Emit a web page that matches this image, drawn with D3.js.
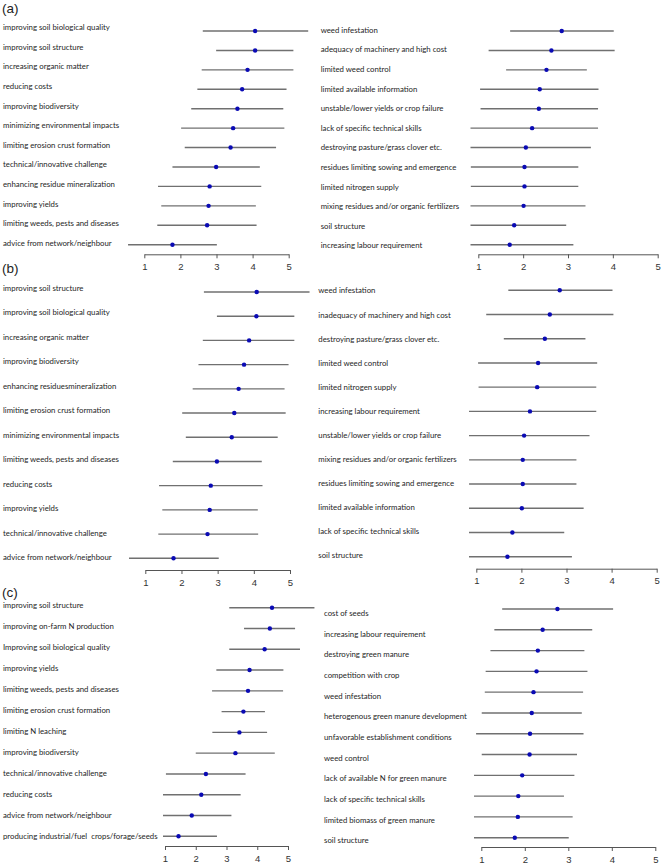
<!DOCTYPE html>
<html>
<head>
<meta charset="utf-8">
<script src="https://cdn.jsdelivr.net/npm/d3@7"></script>
<style>
  html, body { margin: 0; padding: 0; background: #fff; }
  svg { display: block; }
  .lab { font-family: Lato, "Open Sans", sans-serif; fill: #1e1e1e; white-space: pre; }
  .tick text { font-family: "Liberation Sans", Arial, sans-serif; fill: #333; }
  .ttl { font-family: "Liberation Sans", Arial, sans-serif; fill: #222; }
</style>
</head>
<body>
<svg id="chart" width="661" height="867"></svg>
<script>
// ---------------- DATA ----------------
const tickValues = [1, 2, 3, 4, 5];

// (a) benefits
const aLeftLabels = [
  "improving soil biological quality", "improving soil structure", "increasing organic matter",
  "reducing costs", "improving biodiversity", "minimizing environmental impacts",
  "limiting erosion crust formation", "technical/innovative challenge", "enhancing residue mineralization",
  "improving yields", "limiting weeds, pests and diseases", "advice from network/neighbour"];
const aLeftMean = [4.07, 4.07, 3.86, 3.71, 3.58, 3.46, 3.39, 2.99, 2.81, 2.78, 2.74, 1.78];
const aLeftLow  = [2.62, 2.99, 2.59, 2.47, 2.30, 2.02, 2.12, 1.78, 1.38, 1.47, 1.36, 0.55];
const aLeftHigh = [5.54, 5.13, 5.13, 4.94, 4.85, 4.88, 4.65, 4.20, 4.24, 4.09, 4.11, 3.01];

// (a) constraints
const aRightLabels = [
  "weed infestation", "adequacy of machinery and high cost", "limited weed control",
  "limited available information", "unstable/lower yields or crop failure", "lack of specific technical skills",
  "destroying pasture/grass clover etc.", "residues limiting sowing and emergence", "limited nitrogen supply",
  "mixing residues and/or organic fertilizers", "soil structure", "increasing labour requirement"];
const aRightMean = [2.86, 2.63, 2.52, 2.37, 2.35, 2.20, 2.06, 2.03, 2.03, 2.01, 1.80, 1.70];
const aRightLow  = [1.71, 1.23, 1.62, 1.04, 1.05, 0.73, 0.61, 0.83, 0.83, 0.63, 0.64, 0.28];
const aRightHigh = [4.02, 4.04, 3.42, 3.68, 3.67, 3.67, 3.51, 3.23, 3.23, 3.39, 2.96, 3.12];

// (b) benefits
const bLeftLabels = [
  "improving soil structure", "improving soil biological quality", "increasing organic matter",
  "improving biodiversity", "enhancing residuesmineralization", "limiting erosion crust formation",
  "minimizing environmental impacts", "limiting weeds, pests and diseases", "reducing costs",
  "improving yields", "technical/innovative challenge", "advice from network/neighbour"];
const bLeftMean = [4.08, 4.07, 3.87, 3.73, 3.58, 3.46, 3.39, 2.98, 2.81, 2.78, 2.72, 1.78];
const bLeftLow  = [2.62, 2.98, 2.59, 2.47, 2.31, 2.02, 2.12, 1.76, 1.38, 1.47, 1.36, 0.55];
const bLeftHigh = [5.54, 5.12, 5.12, 4.96, 4.85, 4.88, 4.66, 4.22, 4.24, 4.11, 4.12, 3.03];

// (b) constraints
const bRightLabels = [
  "weed infestation", "inadequacy of machinery and high cost", "destroying pasture/grass clover etc.",
  "limited weed control", "limited nitrogen supply", "increasing labour requirement",
  "unstable/lower yields or crop failure", "mixing residues and/or organic fertilizers",
  "residues limiting sowing and emergence", "limited available information",
  "lack of specific technical skills", "soil structure"];
const bRightMean = [2.85, 2.63, 2.52, 2.37, 2.35, 2.19, 2.06, 2.03, 2.03, 2.01, 1.80, 1.69];
const bRightLow  = [1.71, 1.22, 1.61, 1.04, 1.05, 0.72, 0.61, 0.84, 0.84, 0.64, 0.65, 0.26];
const bRightHigh = [4.02, 4.04, 3.42, 3.68, 3.66, 3.66, 3.51, 3.22, 3.22, 3.38, 2.95, 3.12];

// (c) benefits
const cLeftLabels = [
  "improving soil structure", "improving on-farm N production", "Improving soil biological quality",
  "improving yields", "limiting weeds, pests and diseases", "limiting erosion crust formation",
  "limiting N leaching", "improving biodiversity", "technical/innovative challenge",
  "reducing costs", "advice from network/neighbour", "producing industrial/fuel  crops/forage/seeds"];
const cLeftMean = [4.48, 4.41, 4.24, 3.75, 3.70, 3.55, 3.42, 3.29, 2.33, 2.18, 1.87, 1.44];
const cLeftLow  = [3.09, 3.57, 3.09, 2.67, 2.53, 2.84, 2.54, 2.00, 1.03, 0.90, 0.58, 0.19];
const cLeftHigh = [5.86, 5.23, 5.39, 4.85, 4.84, 4.25, 4.32, 4.57, 3.62, 3.46, 3.16, 2.69];

// (c) constraints
const cRightLabels = [
  "cost of seeds", "increasing labour requirement", "destroying green manure",
  "competition with crop", "weed infestation", "heterogenous green manure development",
  "unfavorable establishment conditions", "weed control", "lack of available N for green manure",
  "lack of specific technical skills", "limited biomass of green manure", "soil structure"];
const cRightMean = [2.75, 2.41, 2.30, 2.27, 2.20, 2.16, 2.12, 2.11, 1.94, 1.85, 1.84, 1.77];
const cRightLow  = [1.48, 1.30, 1.21, 1.10, 1.08, 1.01, 0.88, 1.01, 0.74, 0.80, 0.58, 0.53];
const cRightHigh = [4.03, 3.55, 3.37, 3.44, 3.34, 3.31, 3.35, 3.20, 3.14, 2.90, 3.10, 3.01];

const panelTitles = ["(a)", "(b)", "(c)"];

// ---------------- LAYOUT ----------------
const panels = [
  { labels: aLeftLabels, mean: aLeftMean, lo: aLeftLow, hi: aLeftHigh,
    x1: 144.3, x5: 288.7, axisY: 254.3, rowY0: 31, rowY1: 244.7,
    labX: 3, labY0: 27.3, labY1: 243.3, clipL: 0, clipR: 316 },
  { labels: aRightLabels, mean: aRightMean, lo: aRightLow, hi: aRightHigh,
    x1: 478.3, x5: 657.7, axisY: 254.3, rowY0: 31, rowY1: 244.7,
    labX: 320.7, labY0: 30, labY1: 245.7, clipL: 470.5, clipR: 661 },
  { labels: bLeftLabels, mean: bLeftMean, lo: bLeftLow, hi: bLeftHigh,
    x1: 145.3, x5: 290, axisY: 570, rowY0: 292, rowY1: 558.3,
    labX: 3, labY0: 288.3, labY1: 557.3, clipL: 0, clipR: 316 },
  { labels: bRightLabels, mean: bRightMean, lo: bRightLow, hi: bRightHigh,
    x1: 476.3, x5: 656.7, axisY: 568.7, rowY0: 290.3, rowY1: 556.7,
    labX: 318.3, labY0: 290.7, labY1: 555.7, clipL: 469, clipR: 661 },
  { labels: cLeftLabels, mean: cLeftMean, lo: cLeftLow, hi: cLeftHigh,
    x1: 165, x5: 288, axisY: 846, rowY0: 607.7, rowY1: 836.3,
    labX: 3, labY0: 605, labY1: 836.7, clipL: 163, clipR: 316 },
  { labels: cRightLabels, mean: cRightMean, lo: cRightLow, hi: cRightHigh,
    x1: 481.3, x5: 655.3, axisY: 847, rowY0: 609, rowY1: 837.7,
    labX: 324, labY0: 613.3, labY1: 840.7, clipL: 474, clipR: 661 }
];
const titlePos = [{x: 2, y: 13}, {x: 2, y: 273}, {x: 2, y: 597}];

const svg = d3.select("#chart");

// font size so label widths match the original (~107px for the reference label)
const probe = svg.append("text").attr("class", "lab").style("font-size", "10px")
  .text("improving soil biological quality");
const w10 = probe.node().getComputedTextLength();
probe.remove();
const labFont = 10 * 107 / w10;

panels.forEach((p, pi) => {
  const g = svg.append("g");
  const x = d3.scaleLinear().domain([1, 5]).range([p.x1, p.x5]);
  const yBar = d3.scalePoint().domain(d3.range(p.labels.length)).range([p.rowY0, p.rowY1]);
  const yLab = d3.scalePoint().domain(d3.range(p.labels.length)).range([p.labY0, p.labY1]);

  const clipId = "clip" + pi;
  svg.append("clipPath").attr("id", clipId).append("rect")
    .attr("x", p.clipL).attr("y", 0).attr("width", p.clipR - p.clipL).attr("height", 867);

  // labels
  g.selectAll("text.lab").data(p.labels).join("text")
    .attr("class", "lab")
    .attr("x", p.labX)
    .attr("y", (d, i) => yLab(i))
    .attr("dy", "0.35em")
    .style("font-size", labFont + "px")
    .text(d => d);

  const marks = g.append("g").attr("clip-path", `url(#${clipId})`);
  // intervals
  marks.selectAll("line.ci").data(p.mean).join("line")
    .attr("class", "ci")
    .attr("x1", (d, i) => x(p.lo[i]))
    .attr("x2", (d, i) => x(p.hi[i]))
    .attr("y1", (d, i) => yBar(i))
    .attr("y2", (d, i) => yBar(i))
    .attr("stroke", "#707070")
    .attr("stroke-width", 1.4);
  // points
  marks.selectAll("circle").data(p.mean).join("circle")
    .attr("cx", d => x(d))
    .attr("cy", (d, i) => yBar(i))
    .attr("r", 2.2)
    .attr("fill", "#0a0ab4");

  // axis
  const ax = g.append("g").attr("transform", `translate(0,${p.axisY})`)
    .call(d3.axisBottom(x).tickValues(tickValues).tickFormat(d3.format("d"))
      .tickSize(4).tickSizeOuter(0).tickPadding(5));
  ax.select(".domain").attr("stroke", "#555").attr("stroke-width", 1);
  ax.selectAll(".tick line").attr("stroke", "#555");
  ax.selectAll(".tick text").style("font-size", "9.5px");
});

svg.selectAll("text.ttl").data(panelTitles).join("text")
  .attr("class", "ttl")
  .attr("x", (d, i) => titlePos[i].x)
  .attr("y", (d, i) => titlePos[i].y)
  .style("font-size", "13.5px")
  .text(d => d);
</script>
</body>
</html>
